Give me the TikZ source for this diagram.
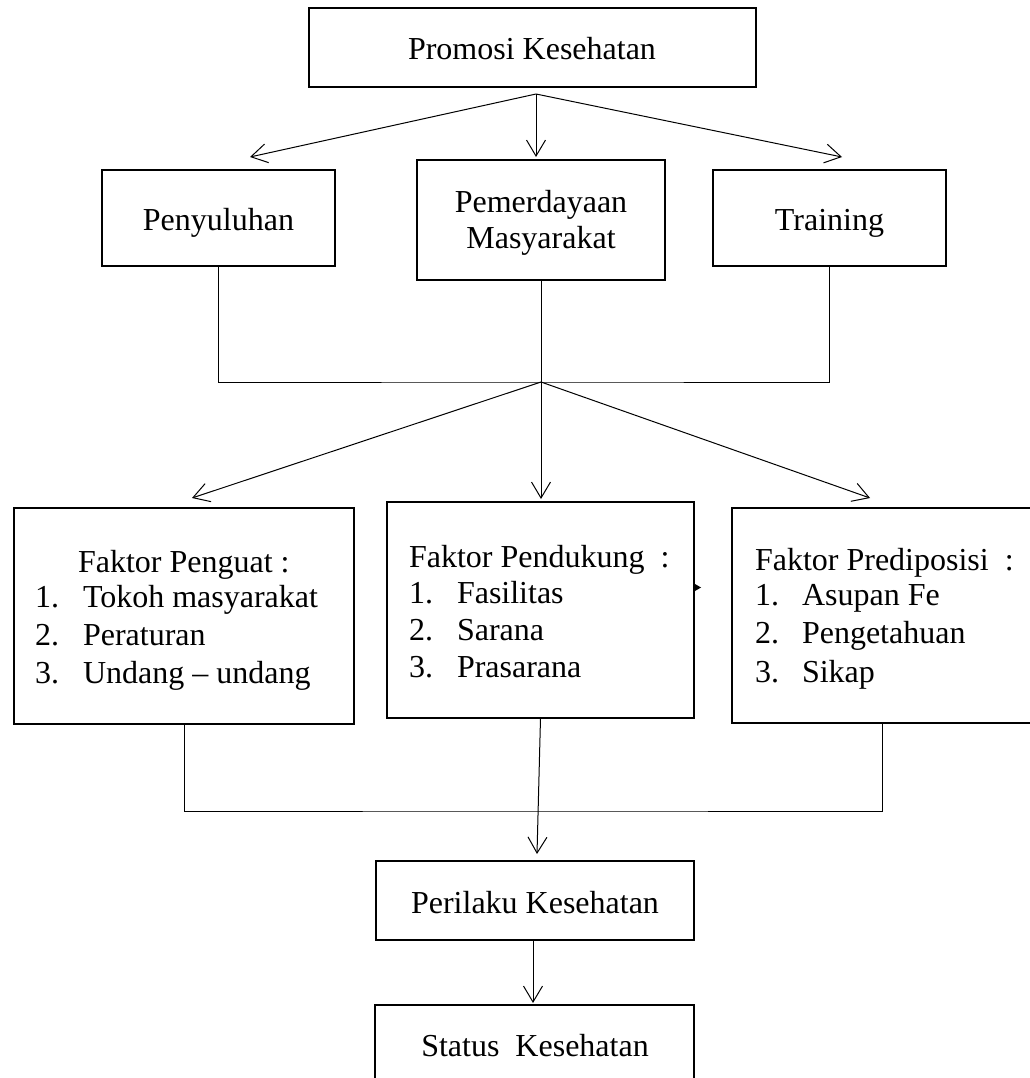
\documentclass[tikz,border=0pt]{standalone}
\usepackage{fontspec}
\setmainfont{Liberation Serif}
\usetikzlibrary{arrows.meta}
\begin{document}
\begin{tikzpicture}[x=1pt,y=-1pt,
  every node/.style={font=\fontsize{32}{38}\selectfont, inner sep=0pt, outer sep=0pt},
  box/.style={draw, line width=2pt},
  conn/.style={line width=1pt},
  arr/.style={line width=1pt, -{Straight Barb[length=16pt,width=19pt,line width=1pt]}},
  txt/.style={anchor=base west},
  ctxt/.style={anchor=base}]
\useasboundingbox (0,0) rectangle (1029,1078);

% boxes
\node[box, minimum width=447pt, minimum height=79pt] (top) at (532.5,47.5) {};
\node[box, minimum width=233pt, minimum height=96pt] (peny) at (218.5,218) {};
\node[box, minimum width=248pt, minimum height=120pt] (pem) at (541,220) {};
\node[box, minimum width=233pt, minimum height=96pt] (trn) at (829.5,218) {};
\node[box, minimum width=340pt, minimum height=216pt] (fpg) at (184,616) {};
\node[box, minimum width=307pt, minimum height=216pt] (fpd) at (540.5,610) {};
\node[box, minimum width=300pt, minimum height=215pt] (fpr) at (882,615.5) {};
\node[box, minimum width=318pt, minimum height=79pt] (per) at (535,900.5) {};
\node[box, minimum width=319pt, minimum height=90pt] (sts) at (534.5,1050) {};

% texts
\node[ctxt] (tprom) at (532,60) {Promosi Kesehatan};
\node[ctxt] (tpeny) at (218.5,230) {Penyuluhan};
\node[ctxt] (tpem1) at (541,212) {Pemerdayaan};
\node[ctxt] (tpem2) at (541,248) {Masyarakat};
\node[ctxt] (ttrn) at (829.5,230) {Training};

\node[txt] (hg) at (78,572) {Faktor Penguat :};
\node[txt] (g1n) at (35,607) {1.};
\node[txt] (g1) at (83,607) {Tokoh masyarakat};
\node[txt] (g2n) at (35,645) {2.};
\node[txt] (g2) at (83,645) {Peraturan};
\node[txt] (g3n) at (35,683) {3.};
\node[txt] (g3) at (83,683) {Undang – undang};

\node[txt] (hd) at (409,567) {Faktor Pendukung\ \ :};
\node[txt] (d1n) at (409,603) {1.};
\node[txt] (d1) at (457,603) {Fasilitas};
\node[txt] (d2n) at (409,640) {2.};
\node[txt] (d2) at (457,640) {Sarana};
\node[txt] (d3n) at (409,677) {3.};
\node[txt] (d3) at (457,677) {Prasarana};

\node[txt] (hr) at (755,570) {Faktor Prediposisi\ \ :};
\node[txt] (r1n) at (755,605) {1.};
\node[txt] (r1) at (802,605) {Asupan Fe};
\node[txt] (r2n) at (755,643) {2.};
\node[txt] (r2) at (802,643) {Pengetahuan};
\node[txt] (r3n) at (755,682) {3.};
\node[txt] (r3) at (802,682) {Sikap};

\node[ctxt] (tper) at (535,913) {Perilaku Kesehatan};
\node[ctxt] (tsts) at (535,1056) {Status\ \ Kesehatan};

% coordinates
\coordinate (s1) at (536,94);
\coordinate (a1) at (250,157);
\coordinate (a2) at (536,157);
\coordinate (a3) at (842,157);
\coordinate (j1) at (541,382);
\coordinate (b1) at (192,498);
\coordinate (b2) at (541,499);
\coordinate (b3) at (870,498);
\coordinate (j2) at (537,811);
\coordinate (c1) at (537,854);
\coordinate (c2) at (533,1003);

% connectors
\draw[arr] (s1) -- (a1);
\draw[arr] (s1) -- (a2);
\draw[arr] (s1) -- (a3);
\draw[conn] (peny.south) |- (j1) -| (trn.south);
\draw[conn] (pem.south) -- (j1);
\draw[arr] (j1) -- (b1);
\draw[arr] (j1) -- (b2);
\draw[arr] (j1) -- (b3);
\draw[conn] (fpg.south) |- (j2) -| (fpr.south);
\draw[arr] (fpd.south) -- (c1);
\draw[arr] ([xshift=-2pt]per.south) -- (c2);

% small stray tip on the middle box
\fill ([xshift=1pt,yshift=26pt]fpd.east) -- ++(6,3.5) -- ++(-6,3.5) -- cycle;
\end{tikzpicture}
\end{document}
